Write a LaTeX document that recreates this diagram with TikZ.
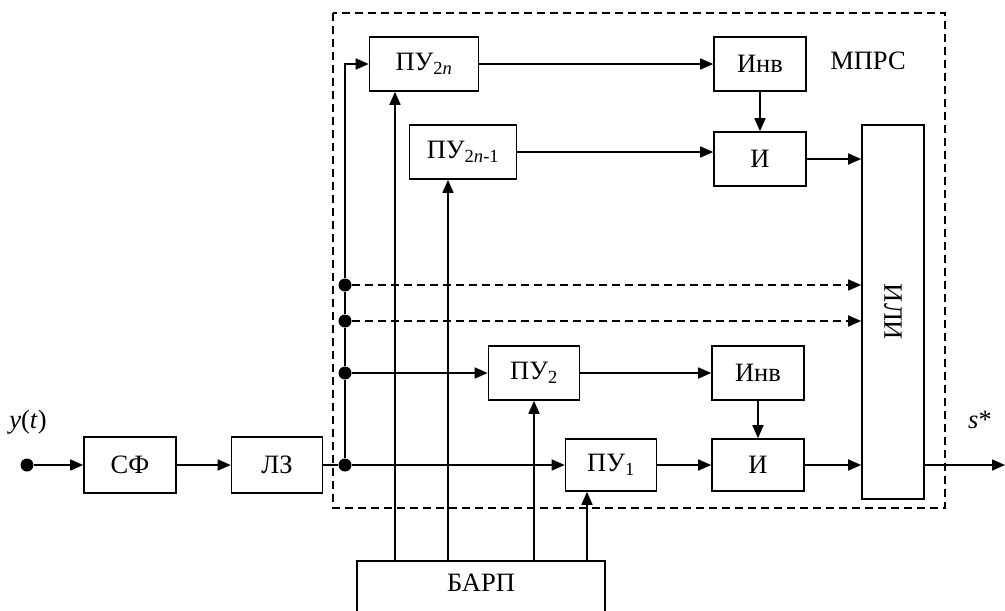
\documentclass[tikz,border=0pt]{standalone}
\usepackage{fontspec}
\setmainfont{Liberation Serif}
\usetikzlibrary{arrows.meta}

\begin{document}
\begin{tikzpicture}[x=1pt, y=-1pt, line width=1.6pt,
    font=\fontsize{26.5}{30}\selectfont,
    blk/.style={draw, minimum height=54pt, inner sep=0pt},
    arr/.style={-{Triangle[length=13pt, width=11pt]}},
    jdot/.style={circle, fill, inner sep=0pt, minimum size=13pt},
    dsh/.style={dash pattern=on 8pt off 5pt}]
  \path[use as bounding box, clip] (0,0) rectangle (1005,611);
  % MPRS frame
  \draw[dsh, line width=1.3pt] (333,13) rectangle (945,508);
  \node (mprs) at (868,61) {МПРС};
  % input chain
  \node[jdot] (in) at (27,465) {};
  \node (ylbl) at (28,422) {\textit{y}(\textit{t})};
  \node[blk, minimum width=92pt, minimum height=56pt] (sf) at (130,465) {СФ};
  \node[blk, minimum width=91pt, minimum height=56pt] (lz) at (277,465) {ЛЗ};
  \node[jdot] (j0) at (345,465) {};
  \node[jdot] (j1) at (345,285) {};
  \node[jdot] (j2) at (345,321) {};
  \node[jdot] (j3) at (345,373) {};
  % channels
  \node[blk, minimum width=109pt] (pu2n) at (424,64) {ПУ\textsubscript{2\textit{n}}};
  \node[blk, minimum width=107pt] (pu2n1) at (463,152) {ПУ\textsubscript{2\textit{n}-1}};
  \node[blk, minimum width=91pt] (pu2) at (534,373) {ПУ\textsubscript{2}};
  \node[blk, minimum width=91pt, minimum height=52pt] (pu1) at (611,465) {ПУ\textsubscript{1}};
  \node[blk, minimum width=92pt] (inv1) at (760,64) {Инв};
  \node[blk, minimum width=92pt] (i2) at (760,159) {И};
  \node[blk, minimum width=92pt] (inv2) at (758,373) {Инв};
  \node[blk, minimum width=92pt, minimum height=52pt] (i1) at (758,465) {И};
  \node[blk, minimum width=62pt, minimum height=374pt] (ili) at (893,312) {};
  \node[rotate=-90] (ilitxt) at (ili.center) {ИЛИ};
  \node (slbl) at (980,420) {\textit{s}*};
  \coordinate (out) at (1005,465);
  % BARP
  \node[draw, minimum width=248pt, minimum height=80pt, inner sep=0pt,
        anchor=north] (barp) at (481,560) {};
  \node (barptxt) at ([yshift=-23pt]barp.north) {БАРП};
  % connections
  \draw[arr] (in) -- (sf);
  \draw[arr] (sf) -- (lz);
  \draw (lz) -- (j0);
  \draw[arr] (j0) -- (pu1);
  \draw (j0) -- (j3) -- (j2) -- (j1);
  \draw[arr] (j1) |- (pu2n);
  \draw[arr, dsh] (j1) -- (j1 -| ili.west);
  \draw[arr, dsh] (j2) -- (j2 -| ili.west);
  \draw[arr] (j3) -- (pu2);
  \draw[arr] (pu2n) -- (inv1);
  \draw[arr] (inv1) -- (i2);
  \draw[arr] (pu2n1.east) -- (pu2n1.east -| i2.west);
  \draw[arr] (i2) -- (i2 -| ili.west);
  \draw[arr] (pu2) -- (inv2);
  \draw[arr] (inv2) -- (i1);
  \draw[arr] (pu1) -- (i1);
  \draw[arr] (i1) -- (i1 -| ili.west);
  \draw[arr] (ili.east |- i1) -- (out);
  % BARP outputs
  \draw[arr] ([xshift=-29pt]pu2n.south |- barp.north) -- ([xshift=-29pt]pu2n.south);
  \draw[arr] ([xshift=-15pt]pu2n1.south |- barp.north) -- ([xshift=-15pt]pu2n1.south);
  \draw[arr] (pu2.south |- barp.north) -- (pu2.south);
  \draw[arr] ([xshift=-24pt]pu1.south |- barp.north) -- ([xshift=-24pt]pu1.south);
\end{tikzpicture}
\end{document}
